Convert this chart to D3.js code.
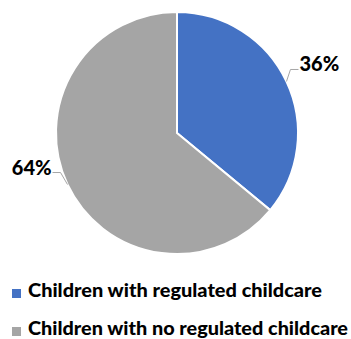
<!DOCTYPE html>
<html>
<head>
<meta charset="utf-8">
<script src="https://cdn.jsdelivr.net/npm/d3@7"></script>
<style>
  html, body { margin: 0; padding: 0; background: #fff; }
  svg { display: block; }
</style>
</head>
<body>
<svg id="chart" width="351" height="339"></svg>
<script>
// Data
const categories = ["Children with regulated childcare", "Children with no regulated childcare"];
const values = [36, 64];
const colors = ["#4472C4", "#A5A5A5"];

const width = 351, height = 339;
const cx = 177, cy = 133, radius = 121;
const fontFamily = "Lato, 'Open Sans', 'Liberation Sans', sans-serif";

const svg = d3.select("#chart");
const g = svg.append("g").attr("transform", `translate(${cx},${cy})`);

const pie = d3.pie().sort(null).value(d => d.value);
const arc = d3.arc().innerRadius(0).outerRadius(radius);

const data = categories.map((c, i) => ({ name: c, value: values[i], color: colors[i] }));
const arcsData = pie(data);

// Skivor
g.selectAll("path.slice")
  .data(arcsData)
  .join("path")
  .attr("class", "slice")
  .attr("d", arc)
  .attr("fill", d => d.data.color)
  .attr("stroke", "#fff")
  .attr("stroke-width", 2);

// Etiketter med ledarlinjer
const total = d3.sum(values);
arcsData.forEach(d => {
  const mid = (d.startAngle + d.endAngle) / 2;
  const side = Math.sin(mid) >= 0 ? 1 : -1;
  const sx = radius * Math.sin(mid);
  const sy = -radius * Math.cos(mid);
  const ex = sx + side * (side > 0 ? 4 : 7);
  const ey = sy - 12;
  const hx = ex + side * 8;

  g.append("polyline")
    .attr("points", `${sx},${sy} ${ex},${ey} ${hx},${ey}`)
    .attr("fill", "none")
    .attr("stroke", "#A6A6A6")
    .attr("stroke-width", 1);

  g.append("text")
    .attr("x", hx + side * 1)
    .attr("y", ey + 2)
    .attr("text-anchor", side > 0 ? "start" : "end")
    .style("font-family", fontFamily)
    .style("font-size", "20px")
    .style("font-weight", "900")
    .style("fill", "#000")
    .text(Math.round(d.value / total * 100) + "%");
});

// Legend
const legend = svg.append("g").attr("class", "legend");
const legendRows = [297, 335];
const legendWidths = [294, 320];
data.forEach((d, i) => {
  const row = legend.append("g");
  row.append("rect")
    .attr("x", 12)
    .attr("y", legendRows[i] - 8)
    .attr("width", 9)
    .attr("height", 9)
    .attr("fill", d.color);
  row.append("text")
    .attr("x", 28)
    .attr("y", legendRows[i])
    .attr("textLength", legendWidths[i])
    .attr("lengthAdjust", "spacingAndGlyphs")
    .style("font-family", fontFamily)
    .style("font-size", "19px")
    .style("font-weight", "900")
    .style("fill", "#000")
    .text(d.name);
});
</script>
</body>
</html>
